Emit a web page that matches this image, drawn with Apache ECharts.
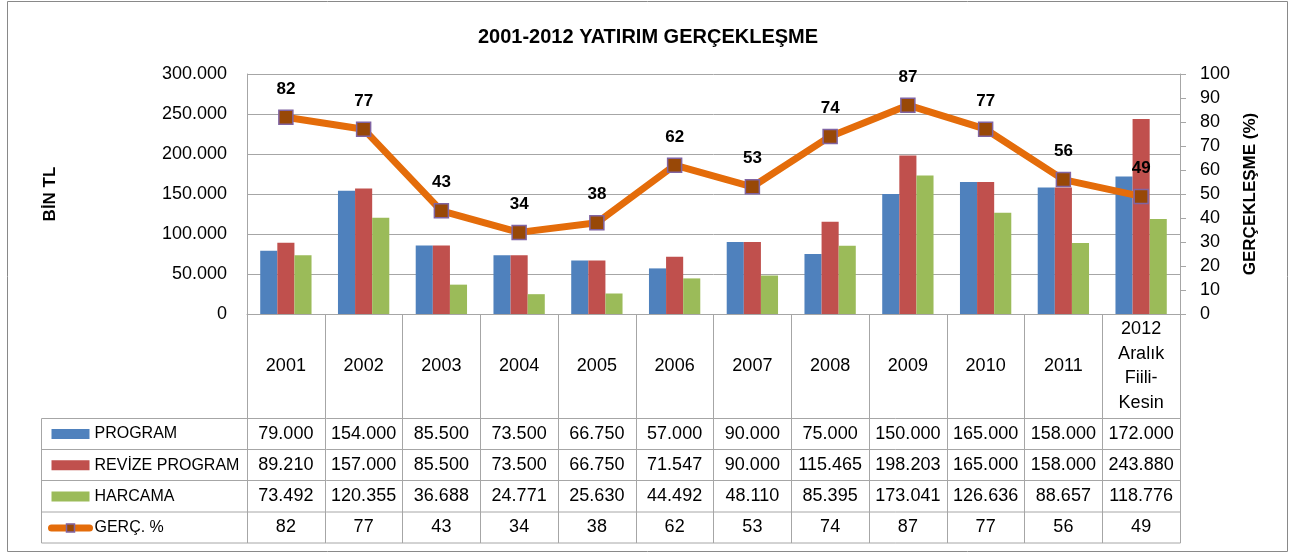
<!DOCTYPE html>
<html>
<head>
<meta charset="utf-8">
<script src="https://cdn.jsdelivr.net/npm/echarts@6/dist/echarts.min.js"></script>
<style>
  html, body { margin: 0; padding: 0; background: #fff; }
  #chart { width: 1296px; height: 554px; }
</style>
</head>
<body>
<div id="chart"></div>
<script>
// data
const categories = ['2001', '2002', '2003', '2004', '2005', '2006', '2007', '2008', '2009', '2010', '2011', '2012\nAralık\nFiili-\nKesin'];
const program = [79000, 154000, 85500, 73500, 66750, 57000, 90000, 75000, 150000, 165000, 158000, 172000];
const revizeProgram = [89210, 157000, 85500, 73500, 66750, 71547, 90000, 115465, 198203, 165000, 158000, 243880];
const harcama = [73492, 120355, 36688, 24771, 25630, 44492, 48110, 85395, 173041, 126636, 88657, 118776];
const gercekles = [82, 77, 43, 34, 38, 62, 53, 74, 87, 77, 56, 49];
const seriesNames = ['PROGRAM', 'REVİZE PROGRAM', 'HARCAMA', 'GERÇ. %'];

const FONT = '"Liberation Sans", Arial, sans-serif';
const GRID_COLOR = '#a6a6a6';

function fmt(v) {
    return String(v).replace(/\B(?=(\d{3})+(?!\d))/g, '.');
}

// table rows (shown under the category axis)
const tableRows = [program.map(fmt), revizeProgram.map(fmt), harcama.map(fmt), gercekles.map(String)];
const rowMargins = [120, 151, 182, 213];
const rowLines = [418.5, 449.5, 480.5, 512, 543];

const chart = echarts.init(document.getElementById('chart'));

let xAxes = [
    {
        type: 'category',
        data: categories,
        position: 'bottom',
        axisLine: { show: true, lineStyle: { color: GRID_COLOR, width: 1 } },
        axisTick: { show: true, length: 229, lineStyle: { color: GRID_COLOR } },
        axisLabel: {
            interval: 0, margin: 52, verticalAlign: 'middle', lineHeight: 24.5,
            fontFamily: FONT, fontSize: 18, color: '#000'
        }
    }
];
tableRows.forEach((row, r) => {
    xAxes.push({
        type: 'category',
        data: categories,
        position: 'bottom',
        axisLine: { show: false },
        axisTick: { show: false },
        axisLabel: {
            interval: 0, margin: rowMargins[r], verticalAlign: 'middle',
            fontFamily: FONT, fontSize: 18, color: '#000',
            formatter: (v, i) => row[i]
        }
    });
});

let tableLines = rowLines.map(y => ({
    type: 'line',
    shape: { x1: 41.5, y1: y, x2: 1180.5, y2: y },
    style: { stroke: GRID_COLOR, lineWidth: 1 }
}));
tableLines.push({
    type: 'line',
    shape: { x1: 41.5, y1: 418.5, x2: 41.5, y2: 543 },
    style: { stroke: GRID_COLOR, lineWidth: 1 }
});
tableLines.push({
    type: 'rect',
    shape: { x: 7.5, y: 1.5, width: 1280, height: 550 },
    style: { fill: 'none', stroke: '#898989', lineWidth: 1 },
    z: -1
});

const option = {
    animation: false,
    textStyle: { fontFamily: FONT },
    title: {
        text: '2001-2012 YATIRIM GERÇEKLEŞME',
        left: 'center',
        top: 22,
        textStyle: { fontFamily: FONT, fontSize: 20, fontWeight: 'bold', color: '#000' }
    },
    legend: {
        orient: 'vertical',
        left: 48,
        top: 424,
        padding: 0,
        itemWidth: 38,
        itemHeight: 10,
        itemGap: 11.3,
        selectedMode: false,
        textStyle: { fontFamily: FONT, fontSize: 16, lineHeight: 20, color: '#000' },
        data: [
            { name: seriesNames[0], icon: 'rect' },
            { name: seriesNames[1], icon: 'rect' },
            { name: seriesNames[2], icon: 'rect' },
            { name: seriesNames[3], itemStyle: { borderWidth: 1.5 }, lineStyle: { width: 7, cap: 'round' } }
        ]
    },
    grid: { left: 247, right: 116, top: 74, bottom: 240 },
    xAxis: xAxes,
    yAxis: [
        {
            type: 'value',
            min: 0,
            max: 300000,
            interval: 50000,
            name: 'BİN TL',
            nameLocation: 'middle',
            nameGap: 188,
            nameTextStyle: { fontFamily: FONT, fontSize: 17, fontWeight: 'bold', color: '#000' },
            axisLine: { show: true, lineStyle: { color: GRID_COLOR } },
            axisTick: { show: false },
            splitLine: { show: true, lineStyle: { color: GRID_COLOR } },
            axisLabel: { margin: 20, fontFamily: FONT, fontSize: 18, color: '#000', formatter: v => fmt(v) }
        },
        {
            type: 'value',
            min: 0,
            max: 100,
            interval: 10,
            position: 'right',
            name: 'GERÇEKLEŞME (%)',
            nameLocation: 'middle',
            nameGap: 62,
            nameTextStyle: { fontFamily: FONT, fontSize: 17, fontWeight: 'bold', color: '#000' },
            axisLine: { show: true, lineStyle: { color: GRID_COLOR } },
            axisTick: { show: true, length: 6, lineStyle: { color: GRID_COLOR } },
            splitLine: { show: false },
            axisLabel: { margin: 20, fontFamily: FONT, fontSize: 18, color: '#000' }
        }
    ],
    graphic: tableLines,
    series: [
        {
            name: seriesNames[0], type: 'bar', data: program,
            barGap: '0%', barCategoryGap: '34%',
            itemStyle: { color: '#4f81bd' }
        },
        {
            name: seriesNames[1], type: 'bar', data: revizeProgram,
            itemStyle: { color: '#c0504d' }
        },
        {
            name: seriesNames[2], type: 'bar', data: harcama,
            itemStyle: { color: '#9bbb59' }
        },
        {
            name: seriesNames[3], type: 'line', data: gercekles, yAxisIndex: 1,
            symbol: 'rect', symbolSize: 14,
            lineStyle: { color: '#e46c0a', width: 7 },
            itemStyle: { color: '#984807', borderColor: '#8064a2', borderWidth: 1.5 },
            label: {
                show: true, position: 'top', distance: 12,
                fontFamily: FONT, fontSize: 17, fontWeight: 'bold', color: '#000'
            },
            z: 5
        }
    ]
};

chart.setOption(option);
</script>
</body>
</html>
